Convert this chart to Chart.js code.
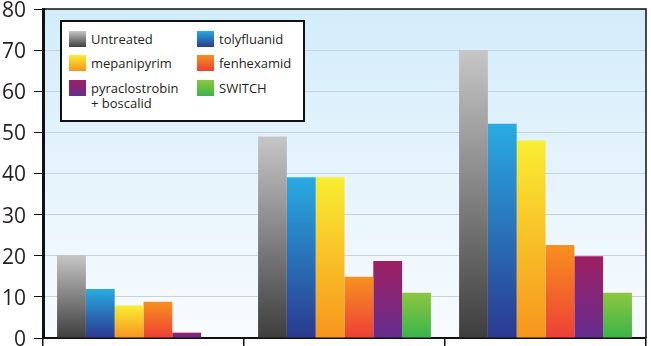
<!DOCTYPE html>
<html>
<head>
<meta charset="utf-8">
<script src="https://cdn.jsdelivr.net/npm/chart.js@4"></script>
<style>
  html, body { margin: 0; padding: 0; background: #ffffff; }
  #wrap { position: relative; width: 651px; height: 346px; overflow: hidden; }
  canvas { display: block; }
  .legend {
    position: absolute; left: 60px; top: 20px; width: 241px; height: 98px;
    border: 2px solid #111; background: #ffffff;
    font-family: "Open Sans", sans-serif; font-size: 13px; color: #231f20;
  }
  .item { position: absolute; display: flex; align-items: flex-start; }
  .sw { width: 17px; height: 16px; margin-right: 5px; flex: none; }
  .txt { line-height: 15px; margin-top: 1px; }
</style>
</head>
<body>
<div id="wrap">
  <canvas id="c" width="651" height="346"></canvas>
  <div class="legend" id="legend"></div>
</div>
<script>
// ---- data ----
const categories = ['1', '2', '3'];
const seriesNames = ['Untreated', 'tolyfluanid', 'mepanipyrim', 'fenhexamid', 'pyraclostrobin\n+ boscalid', 'SWITCH'];
const untreated      = [20.2, 49.0, 70.0];
const tolyfluanid    = [11.9, 39.1, 52.1];
const mepanipyrim    = [7.9, 39.1, 48.0];
const fenhexamid     = [8.8, 14.9, 22.6];
const pyraclostrobin = [1.3, 18.7, 19.9];
const switchValues   = [0, 11.0, 11.0];
const yTicks = [0, 10, 20, 30, 40, 50, 60, 70, 80];

// ---- styles ----
const gradTop    = ['#c6c6c6', '#29abe2', '#f9ed32', '#f7901e', '#9e1f63', '#8dc63f'];
const gradBottom = ['#3e3e3e', '#2b3990', '#f7941d', '#ee3f36', '#652d90', '#39b54a'];
const seriesValues = [untreated, tolyfluanid, mepanipyrim, fenhexamid, pyraclostrobin, switchValues];

function barGradient(i) {
  return function (ctx) {
    const chart = ctx.chart;
    if (!chart.chartArea || ctx.type !== 'data') return gradBottom[i];
    const ys = chart.scales.y;
    const v = ctx.parsed ? ctx.parsed.y : ctx.raw;
    const yTop = ys.getPixelForValue(v);
    const yBase = ys.getPixelForValue(0);
    if (yBase - yTop < 1) return gradBottom[i];
    const g = chart.ctx.createLinearGradient(0, yTop, 0, yBase);
    g.addColorStop(0, gradTop[i]);
    g.addColorStop(1, gradBottom[i]);
    return g;
  };
}

const datasets = seriesValues.map((vals, i) => ({
  label: seriesNames[i],
  data: vals,
  backgroundColor: barGradient(i),
  borderWidth: 0,
  categoryPercentage: 0.86,
  barPercentage: 1.0
}));

// legend (HTML), two columns
const legendEl = document.getElementById('legend');
const legendPos = [[7, 9], [135, 9], [7, 33], [135, 33], [7, 58], [135, 58]];
const legendSeries = [0, 1, 2, 3, 4, 5];
legendSeries.forEach((s, k) => {
  const it = document.createElement('div');
  it.className = 'item';
  it.style.left = legendPos[k][0] + 'px';
  it.style.top = legendPos[k][1] + 'px';
  const sw = document.createElement('div');
  sw.className = 'sw';
  sw.style.background = 'linear-gradient(to bottom,' + gradTop[s] + ',' + gradBottom[s] + ')';
  const tx = document.createElement('div');
  tx.className = 'txt';
  tx.innerHTML = seriesNames[s].split('\n').join('<br>');
  it.appendChild(sw); it.appendChild(tx);
  legendEl.appendChild(it);
});

const bgPlugin = {
  id: 'bg',
  beforeDraw(chart) {
    const { ctx, chartArea: a } = chart;
    const g = ctx.createLinearGradient(0, a.top, 0, a.bottom);
    g.addColorStop(0, '#d3ecfa');
    g.addColorStop(1, '#f8fbfe');
    ctx.save();
    ctx.fillStyle = g;
    ctx.fillRect(a.left, a.top, a.right - a.left, a.bottom - a.top);
    ctx.restore();
  }
};
const framePlugin = {
  id: 'frame',
  afterDraw(chart) {
    const { ctx, chartArea: a } = chart;
    ctx.save();
    ctx.strokeStyle = '#111';
    ctx.lineWidth = 1.5;
    ctx.beginPath();
    ctx.moveTo(a.left, a.top);
    ctx.lineTo(a.right, a.top);
    ctx.lineTo(a.right, a.bottom);
    ctx.stroke();
    ctx.restore();
  }
};

new Chart(document.getElementById('c'), {
  type: 'bar',
  data: { labels: categories, datasets },
  plugins: [bgPlugin, framePlugin],
  options: {
    responsive: false,
    animation: false,
    layout: { padding: { left: 0, right: 5, top: 9, bottom: 0 } },
    plugins: { legend: { display: false }, tooltip: { enabled: false } },
    scales: {
      x: {
        offset: true,
        grid: { display: true, drawOnChartArea: false, offset: true, tickLength: 8, tickColor: '#111', lineWidth: 1.5 },
        border: { display: true, color: '#111', width: 2 },
        ticks: { display: false }
      },
      y: {
        min: 0, max: 80,
        afterBuildTicks(scale) { scale.ticks = yTicks.map(v => ({ value: v })); },
        afterFit(scale) { scale.width = 43; scale.paddingTop = 0; scale.paddingBottom = 0; },
        grid: { color: '#c3d2dc', lineWidth: 1, tickLength: 9, tickColor: '#111', drawTicks: true },
        border: { display: true, color: '#111', width: 3 },
        ticks: {
          padding: 8,
          labelOffset: 2,
          color: '#231f20',
          font: { family: 'Open Sans', size: 21, lineHeight: 0.9 }
        }
      }
    }
  }
});
</script>
</body>
</html>
